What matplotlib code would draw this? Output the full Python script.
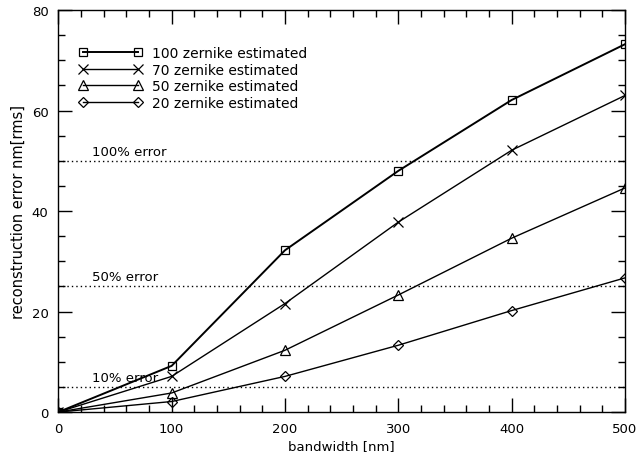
import numpy as np
import matplotlib
matplotlib.use('Agg')
import matplotlib.pyplot as plt
from matplotlib.ticker import MultipleLocator

# reconstruction error vs bandwidth for different numbers of estimated zernikes
bandwidth = [0, 100, 200, 300, 400, 500]
err_100 = [0, 9.2, 32.2, 48.0, 62.1, 73.2]
err_70 = [0, 7.1, 21.6, 37.8, 52.1, 63.0]
err_50 = [0, 3.8, 12.3, 23.3, 34.6, 44.6]
err_20 = [0, 2.1, 7.1, 13.3, 20.2, 26.7]
series_labels = ['100 zernike estimated', '70 zernike estimated',
                 '50 zernike estimated', '20 zernike estimated']

# reference error levels
error_levels = [5, 25, 50]
error_labels = ['10% error', '50% error', '100% error']

plt.rcParams['font.family'] = 'DejaVu Sans'
plt.rcParams['font.size'] = 9.5

fig = plt.figure(figsize=(6.41, 4.60), dpi=100)
ax = fig.add_axes([0.091, 0.102, 0.884, 0.874])

styles = [('s', 1.4, 6), ('x', 1.0, 6.5), ('^', 1.0, 6.5), ('D', 1.0, 4.8)]
for vals, label, (mk, lw, ms) in zip([err_100, err_70, err_50, err_20], series_labels, styles):
    ax.plot(bandwidth, vals, color='black', lw=lw, marker=mk, ms=ms,
            mfc='none', mec='black', mew=0.9, label=label)

for lvl, txt in zip(error_levels, error_labels):
    ax.axhline(lvl, color='black', lw=1.0, ls=(0, (1, 2.2)))
    ax.text(30, lvl + 1.9, txt, va='center', ha='left')

ax.set_xlim(0, 500)
ax.set_ylim(0, 80)
ax.xaxis.set_major_locator(MultipleLocator(100))
ax.xaxis.set_minor_locator(MultipleLocator(20))
ax.yaxis.set_major_locator(MultipleLocator(20))
ax.yaxis.set_minor_locator(MultipleLocator(5))
ax.tick_params(which='both', direction='in', top=True, right=True, width=1)
ax.tick_params(which='major', length=10, pad=7)
ax.tick_params(which='minor', length=5)
for sp in ax.spines.values():
    sp.set_linewidth(1.0)

ax.set_xlabel('bandwidth [nm]', labelpad=3)
ax.set_ylabel('reconstruction error nm[rms]', labelpad=4, fontsize=10.5)

ax.legend(loc='upper left', bbox_to_anchor=(0.036, 0.91), frameon=False,
          numpoints=2, handlelength=4.6, handletextpad=0.7, labelspacing=0.18,
          borderpad=0, borderaxespad=0, fontsize=10)

fig.savefig('out.png', dpi=100)
